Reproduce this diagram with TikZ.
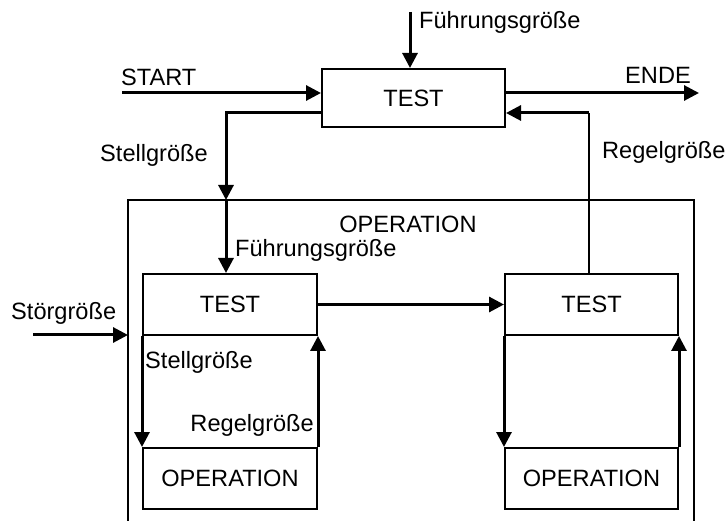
\documentclass[tikz,border=0pt]{standalone}
\usepackage{fontspec}
\setmainfont{Liberation Sans}
\usetikzlibrary{arrows.meta}

\begin{document}
\begin{tikzpicture}[x=1pt, y=-1pt, font=\fontsize{23.6}{27}\selectfont]
  \tikzstyle{block}=[draw, line width=2pt, rectangle, inner sep=0pt]
  \tikzstyle{label}=[inner sep=0pt]
  \tikzstyle{flow}=[line width=3pt, -{Triangle[length=15pt, width=15pt]}]
  \tikzstyle{wire}=[line width=2pt]

\useasboundingbox (0, 0) rectangle (726, 521);

% top level
\node[block, minimum width=183, minimum height=58] (ttest) at (413.5, 98) {TEST};

\coordinate (fin) at (410, 12);
\draw[flow] (fin) -- (ttest.north -| fin);
\node[label, anchor=west] (lfuehr) at (419, 22) {Führungsgröße};

\coordinate (sin) at (122, 93);
\draw[flow] (sin) -- (ttest.west |- sin);
\node[label, anchor=west] (lstart) at (121, 77) {START};

\coordinate (eout) at (699, 93);
\draw[flow] (ttest.east |- eout) -- (eout);
\node[label, anchor=east] (lende) at (691, 75) {ENDE};

% outer operation
\coordinate (otl) at (128, 200);
\coordinate (otr) at (694, 200);
\draw[wire] (128, 521) -- (otl) -- (otr) -- (694, 521);
\node[label] (lop) at (408, 224) {OPERATION};

% inner blocks
\node[block, minimum width=174, minimum height=61] (ltest) at (230, 304.5) {TEST};
\node[block, minimum width=174, minimum height=61] (lop1) at (230, 478.5) {OPERATION};
\node[block, minimum width=173, minimum height=61] (rtest) at (591.5, 304.5) {TEST};
\node[block, minimum width=173, minimum height=61] (rop1) at (591.5, 478.5) {OPERATION};

% Stellgroesse top
\coordinate (sg1) at (226, 113);
\coordinate (sg2) at (226, 200);
\draw[flow] (ttest.west |- sg1) -- (sg1) -- (sg2);
\draw[flow] (sg2) -- (sg2 |- ltest.north);
\node[label, anchor=west] (lstell) at (100, 155) {Stellgröße};
\node[label, anchor=west] (lfuehr2) at (235, 250) {Führungsgröße};

% Regelgroesse top
\coordinate (rg1) at (589, 113);
\draw[wire] (rtest.north -| rg1) -- (rg1);
\draw[flow] (rg1) -- (ttest.east |- rg1);
\node[label, anchor=west] (lregel) at (602, 152) {Regelgröße};

% Stoergroesse
\coordinate (st) at (33, 335);
\draw[flow] (st) -- (otl |- st);
\node[label, anchor=west] (lstoer) at (11, 313) {Störgröße};

% TEST -> TEST
\draw[flow] (ltest.east) -- (rtest.west);

% inner loops
\draw[flow] (ltest.south west) -- (lop1.north west);
\draw[flow] (lop1.north east) -- (ltest.south east);
\node[label, anchor=west] (lstell2) at (145, 362) {Stellgröße};
\node[label, anchor=east] (lregel2) at (314, 425) {Regelgröße};

\draw[flow] (rtest.south west) -- (rop1.north west);
\draw[flow] (rop1.north east) -- (rtest.south east);

\end{tikzpicture}
\end{document}
